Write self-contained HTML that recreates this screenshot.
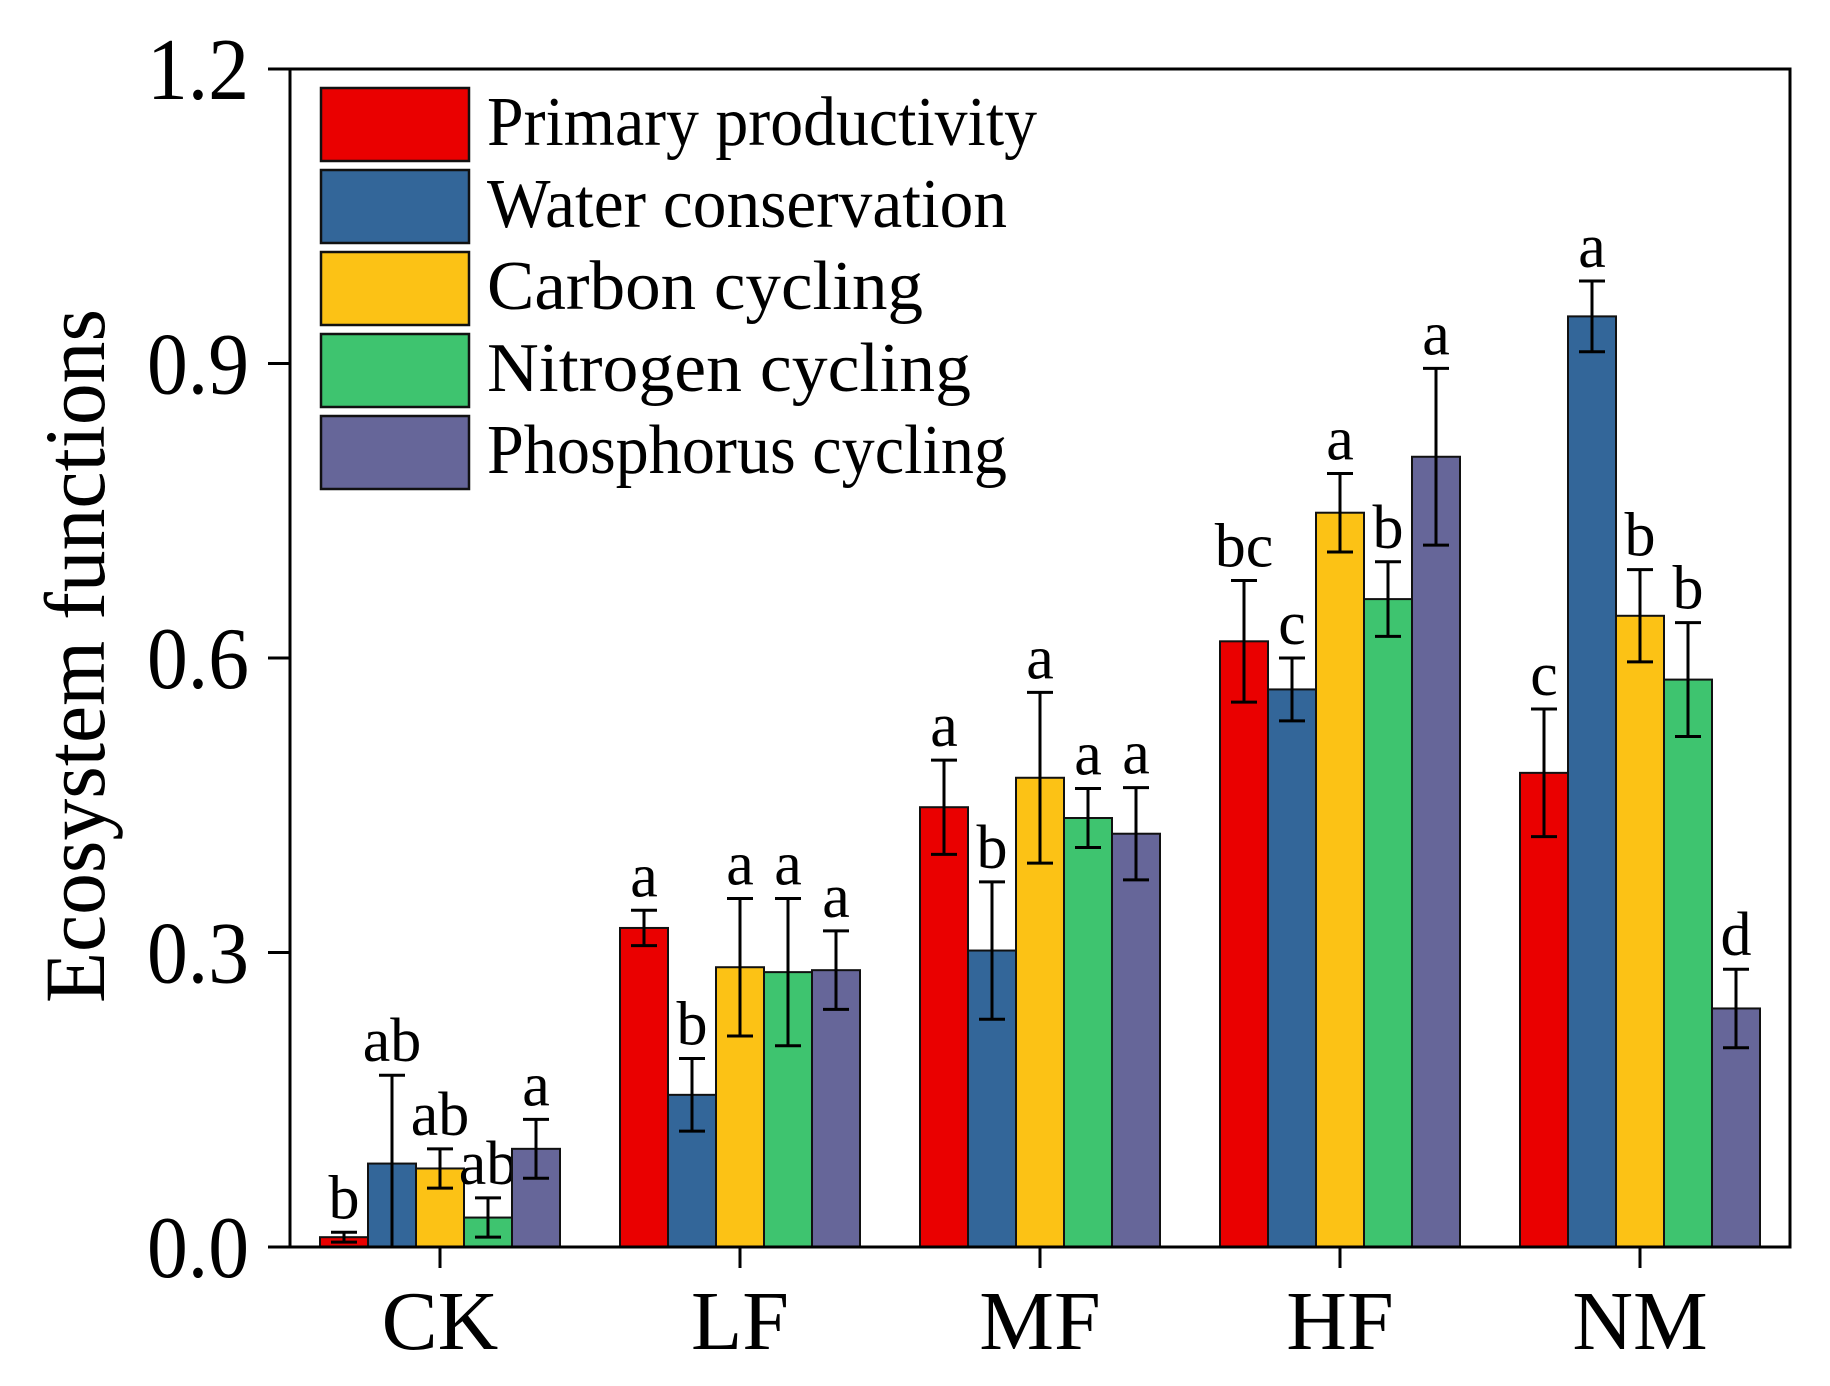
<!DOCTYPE html>
<html><head><meta charset="utf-8"><style>
html,body{margin:0;padding:0;background:#fff;}
svg{display:block;font-family:"Liberation Serif","Times New Roman",serif;}
</style></head><body>
<svg id="chart" width="1830" height="1386" viewBox="0 0 1830 1386" xmlns="http://www.w3.org/2000/svg"></svg>
<script>
const categories = ["CK","LF","MF","HF","NM"];
const seriesNames = ["Primary productivity","Water conservation","Carbon cycling","Nitrogen cycling","Phosphorus cycling"];
const seriesColors = ["#ea0000","#336699","#fcc215","#3ec46f","#666699"];
const primaryVals = [0.010,0.325,0.448,0.617,0.483];
const waterVals   = [0.085,0.155,0.302,0.568,0.948];
const carbonVals  = [0.080,0.285,0.478,0.748,0.643];
const nitroVals   = [0.030,0.280,0.437,0.660,0.578];
const phosVals    = [0.100,0.282,0.421,0.805,0.243];
const primaryErr = [0.005,0.018,0.048,0.062,0.065];
const waterErr   = [0.090,0.037,0.070,0.032,0.036];
const carbonErr  = [0.020,0.070,0.087,0.040,0.047];
const nitroErr   = [0.020,0.075,0.030,0.038,0.058];
const phosErr    = [0.030,0.040,0.047,0.090,0.040];
const primaryLet = ["b","a","a","bc","c"];
const waterLet   = ["ab","b","b","c","a"];
const carbonLet  = ["ab","a","a","a","b"];
const nitroLet   = ["ab","a","a","b","b"];
const phosLet    = ["a","a","a","a","d"];
const yTicks = [0.0,0.3,0.6,0.9,1.2];
const yTickLabels = ["0.0","0.3","0.6","0.9","1.2"];

const vals=[primaryVals,waterVals,carbonVals,nitroVals,phosVals];
const errs=[primaryErr,waterErr,carbonErr,nitroErr,phosErr];
const lets=[primaryLet,waterLet,carbonLet,nitroLet,phosLet];
const L=290,R=1790,T=69,B=1247,YMAX=1.2,BW=48;
const NS="http://www.w3.org/2000/svg";
const svg=document.getElementById('chart');
function y(v){return B-(v/YMAX)*(B-T);}
function xc(i){return L+(R-L)/categories.length*(i+0.5);}
function el(tag,attrs,parent){const e=document.createElementNS(NS,tag);for(const k in attrs)e.setAttribute(k,attrs[k]);(parent||svg).appendChild(e);return e;}

for(let s=0;s<vals.length;s++){
  for(let i=0;i<categories.length;i++){
    const cx=xc(i)+(s-2)*BW;
    const v=vals[s][i], e=errs[s][i];
    const r=el('rect',{x:cx-BW/2,y:y(v),width:BW,height:B-y(v),fill:seriesColors[s],stroke:'#111',"stroke-width":2});
    
    
    const g=el('g',{stroke:'#000',"stroke-width":3,fill:'none'});
    
    
    el('line',{x1:cx,x2:cx,y1:y(v+e),y2:y(Math.max(v-e,0))},g);
    el('line',{x1:cx-13,x2:cx+13,y1:y(v+e),y2:y(v+e)},g);
    el('line',{x1:cx-13,x2:cx+13,y1:y(Math.max(v-e,0)),y2:y(Math.max(v-e,0))},g);
    const t=el('text',{x:cx,y:y(v+e)-14,"font-size":62,"text-anchor":'middle',fill:'#000'});
    t.textContent=lets[s][i];
    
    
  }
}
const frame=el('rect',{x:L,y:T,width:R-L,height:B-T,fill:'none',stroke:'#000',"stroke-width":3});


for(let k=0;k<yTicks.length;k++){
  const yy=y(yTicks[k]);
  const tk=el('line',{x1:L-22,x2:L,y1:yy,y2:yy,stroke:'#000',"stroke-width":3});
  
  
  const t=el('text',{x:249,y:yy+30,"font-size":88,"text-anchor":'end',fill:'#000',textLength:102,lengthAdjust:'spacingAndGlyphs'});
  t.textContent=yTickLabels[k];
  
  
}
for(let i=0;i<categories.length;i++){
  const cx=xc(i);
  const tk=el('line',{x1:cx,x2:cx,y1:B,y2:B+21,stroke:'#000',"stroke-width":3});
  
  
  const t=el('text',{x:cx,y:1349,"font-size":84,"text-anchor":'middle',fill:'#000'});
  t.textContent=categories[i];
  
  
}
const yt=el('text',{x:0,y:0,"font-size":86,"text-anchor":'middle',fill:'#000',transform:'translate(104,656) rotate(-90)',textLength:694,lengthAdjust:'spacingAndGlyphs'});
yt.textContent='Ecosystem functions';


const legW=[550,520,436,484,520];
for(let s=0;s<seriesNames.length;s++){
  const top=88+s*82;
  const g=el('g',{});
  
  
  el('rect',{x:321,y:top,width:148,height:73,fill:seriesColors[s],stroke:'#111',"stroke-width":2.5},g);
  const t=el('text',{x:487,y:top+57,"font-size":70,fill:'#000',textLength:legW[s],lengthAdjust:'spacingAndGlyphs'},g);
  t.textContent=seriesNames[s];
}
</script>
</body></html>
